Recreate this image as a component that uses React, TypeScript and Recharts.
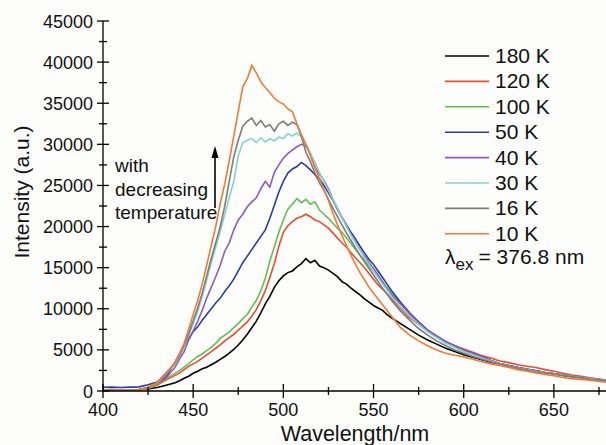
import React from 'react';
import { LineChart, Line, XAxis, YAxis } from 'recharts';

const FONT = '"Liberation Sans", Arial, Helvetica, sans-serif';

const wavelengths = [
  400, 405, 410, 415, 420, 425, 430, 435,
  440, 442.5, 445, 447.5, 450, 452.5, 455, 457.5, 460, 462.5, 465, 467.5, 470, 472.5, 475, 477.5,
  480, 482.5, 485, 487.5, 490, 492.5, 495, 497.5, 500, 502.5, 505, 507.5, 510, 512.5, 515, 517.5,
  520, 522.5, 525, 527.5, 530, 532.5, 535, 537.5, 540, 542.5, 545, 547.5, 550, 552.5, 555, 557.5, 560,
  565, 570, 575, 580, 585, 590, 595, 600, 605, 610, 615, 620, 625, 630, 635, 640, 645, 650, 655, 660,
  665, 670, 675, 680,
];

const k180 = [
  150, 170, 140, 160, 180, 250, 420, 700,
  1000, 1250, 1550, 1800, 2150, 2400, 2700, 2900, 3200, 3500, 3850, 4200, 4600, 5050, 5600, 6200,
  6900, 7700, 8500, 9500, 10600, 11500, 12600, 13400, 14000, 14400, 14600, 15100, 15500, 16100, 15600, 15900,
  15200, 15000, 14700, 14300, 13900, 13300, 13000, 12500, 12100, 11700, 11200, 10800, 10400, 10100, 9800, 9300, 8900,
  8200, 7500, 6800, 6200, 5700, 5200, 4800, 4400, 4100, 3800, 3500, 3300, 3050, 2850, 2650, 2450, 2250, 2100, 1900, 1750,
  1650, 1500, 1350, 1250,
];

const k120 = [
  100, 120, 90, 110, 130, 300, 700, 1350,
  1900, 2200, 2600, 3000, 3300, 3600, 4000, 4400, 4800, 5200, 5600, 6100, 6500, 6900, 7400, 7900,
  8400, 9100, 9900, 11000, 12200, 13800, 15500, 17600, 19300, 20100, 20600, 21000, 21200, 21500, 21200, 20800,
  20600, 20200, 19800, 19200, 18600, 18000, 17500, 16800, 16200, 15600, 15000, 14300, 13600, 12900, 12400, 11800, 11200,
  10000, 8900, 8100, 7300, 6600, 6000, 5500, 5100, 4700, 4300, 4000, 3650, 3450, 3200, 3000, 2850, 2600, 2400, 2150, 1950,
  1800, 1600, 1450, 1300,
];

const k100 = [
  120, 100, 130, 110, 150, 330, 800, 1500,
  2150, 2500, 2900, 3300, 3800, 4200, 4500, 4900, 5300, 5800, 6400, 6800, 7200, 7700, 8200, 8800,
  9300, 10200, 11000, 12200, 13700, 15800, 17500, 19300, 20800, 22100, 22700, 23400, 22900, 23300, 22700, 23000,
  22000, 21500, 21000, 20400, 19800, 19300, 18600, 17900, 17200, 16500, 15900, 15200, 14600, 13900, 13200, 12600, 11900,
  10600, 9400, 8300, 7400, 6600, 6000, 5400, 4900, 4500, 4100, 3700, 3350, 3100, 2850, 2650, 2450, 2250, 2100, 1950, 1800,
  1650, 1500, 1380, 1280,
];

const k50 = [
  450, 480, 430, 470, 500, 750, 1100, 1700,
  3500, 4500, 5500, 6400, 7200, 7800, 8600, 9300, 10000, 10700, 11300, 12100, 12800, 13600, 14600, 15600,
  16400, 17200, 18000, 18800, 19600, 21000, 22600, 24200, 25500, 26500, 27000, 27300, 27800, 27400, 26900, 26300,
  25800, 25000, 24100, 23200, 22100, 21100, 20200, 19300, 18500, 17600, 16800, 16000, 15400, 14600, 13800, 13000, 12200,
  10800, 9500, 8400, 7400, 6700, 6000, 5500, 5000, 4600, 4200, 3700, 3350, 3100, 2850, 2650, 2450, 2250, 2100, 1950, 1800,
  1650, 1500, 1380, 1280,
];

const k40 = [
  150, 130, 160, 140, 170, 450, 900, 1600,
  2900, 3900, 4800, 6200, 7300, 8500, 9800, 11300, 12600, 13900, 15300, 17000, 18000, 19600, 20800, 21500,
  22400, 23000, 23500, 24600, 25500, 24800, 26600, 27500, 28300, 28900, 29300, 29700, 30000, 29800, 28900, 27200,
  26400, 25600, 24600, 23300, 22200, 21100, 20100, 19000, 18100, 17200, 16400, 15600, 14900, 14100, 13300, 12400, 11700,
  10600, 9400, 8300, 7400, 6700, 6000, 5500, 5000, 4600, 4200, 3700, 3350, 3100, 2850, 2650, 2450, 2250, 2100, 1950, 1800,
  1650, 1500, 1380, 1280,
];

const k30 = [
  120, 100, 140, 110, 150, 420, 1000, 2100,
  3300, 4300, 5400, 6800, 8200, 9700, 11500, 13500, 15600, 17500, 19400, 21500, 23500, 25500, 28600, 30200,
  30500, 30700, 30200, 30800, 30300, 30700, 30400, 30900, 30700, 31300, 31000, 31400, 30900, 30000, 28900, 27800,
  26600, 25500, 24400, 23300, 22200, 21100, 20000, 19000, 18000, 17100, 16200, 15400, 14600, 13800, 13000, 12300, 11500,
  10200, 9100, 8100, 7200, 6500, 5800, 5300, 4800, 4400, 4000, 3650, 3300, 3050, 2800, 2600, 2400, 2250, 2100, 1950, 1800,
  1650, 1500, 1380, 1250,
];

const k16 = [
  100, 90, 120, 100, 140, 430, 1050, 2200,
  3400, 4400, 5600, 7000, 8500, 10100, 11900, 14000, 16100, 18000, 20000, 22500, 25500, 28500, 30500, 32200,
  32800, 33200, 32300, 32900, 32100, 32400, 31600, 32500, 32800, 32300, 32700, 32400, 31000, 29000, 27900, 26500,
  25300, 24400, 23300, 22200, 21200, 20200, 19200, 18300, 17400, 16500, 15700, 14900, 14100, 13300, 12500, 11800, 11000,
  9700, 8600, 7600, 6800, 6100, 5500, 5000, 4600, 4200, 3850, 3550, 3250, 3000, 2750, 2550, 2350, 2200, 2050, 1900, 1750,
  1600, 1450, 1350, 1200,
];

const k10 = [
  80, 60, 90, 70, 100, 400, 1000, 2000,
  3500, 4600, 5800, 7500, 9300, 11000, 13000, 15300, 17700, 20000, 22800, 25200, 28000, 31000, 34000, 37000,
  38000, 39600, 38700, 37600, 36900, 36300, 35600, 35200, 34900, 34300, 34000, 32500, 31200, 30000, 28600, 27200,
  25800, 24500, 23200, 21600, 20200, 18900, 17700, 16500, 15400, 14400, 13500, 12600, 11900, 11200, 10500, 9800, 9100,
  7700, 6800, 6100, 5500, 5000, 4600, 4350, 4150, 3850, 3550, 3300, 3100, 2850, 2600, 2400, 2200, 2000, 1850, 1650, 1500,
  1400, 1300, 1150, 1050,
];

const seriesKeys = ['k180', 'k120', 'k100', 'k50', 'k40', 'k30', 'k16', 'k10'];
const seriesNames = ['180 K', '120 K', '100 K', '50 K', '40 K', '30 K', '16 K', '10 K'];
const seriesColors = ['#000000', '#ee4a2c', '#5cc24f', '#2b3c9c', '#8a5cc2', '#84d3cd', '#7d7d7d', '#f47a30'];
const seriesValues = [k180, k120, k100, k50, k40, k30, k16, k10];

const xTicks = [400, 425, 450, 475, 500, 525, 550, 575, 600, 625, 650, 675];
const xLabels = [400, 450, 500, 550, 600, 650];
const yTicks = [0, 2500, 5000, 7500, 10000, 12500, 15000, 17500, 20000, 22500, 25000, 27500, 30000, 32500, 35000, 37500, 40000, 42500, 45000];
const yLabels = [0, 5000, 10000, 15000, 20000, 25000, 30000, 35000, 40000, 45000];

const xTitle = 'Wavelength/nm';
const yTitle = 'Intensity (a.u.)';
const noteLines = ['with', 'decreasing', 'temperature'];
const excitation = '= 376.8 nm';

const data = wavelengths.map((w, i) => {
  const row: Record<string, number> = { w };
  seriesKeys.forEach((k, j) => {
    row[k] = seriesValues[j][i];
  });
  return row;
});

const AX = '#000';

const XTickBottom = (props: any) => {
  const { x, y, payload } = props;
  const major = xLabels.includes(payload.value);
  const len = major ? 7 : 4;
  return (
    <g>
      <line x1={x} x2={x} y1={y - len} y2={y + len} stroke={AX} strokeWidth={1.3} />
      {major && (
        <text x={x} y={y + 25} textAnchor="middle" fontSize={18} fontFamily={FONT} fill="#111">
          {payload.value}
        </text>
      )}
    </g>
  );
};

const XTickTop = (props: any) => {
  const { x, y, payload } = props;
  const major = xLabels.includes(payload.value);
  const len = major ? 7 : 4;
  return <line x1={x} x2={x} y1={y - len} y2={y + len} stroke={AX} strokeWidth={1.3} />;
};

const YTickLeft = (props: any) => {
  const { x, y, payload } = props;
  const major = yLabels.includes(payload.value);
  const len = major ? 6 : 4;
  return (
    <g>
      <line x1={x - len} x2={x + len} y1={y} y2={y} stroke={AX} strokeWidth={1.3} />
      {major && (
        <text x={x - 10} y={y + 6.5} textAnchor="end" fontSize={18} fontFamily={FONT} fill="#111">
          {payload.value}
        </text>
      )}
    </g>
  );
};

const YTickRight = (props: any) => {
  const { x, y, payload } = props;
  const major = yLabels.includes(payload.value);
  const len = major ? 7 : 4;
  return <line x1={x - len} x2={x + len} y1={y} y2={y} stroke={AX} strokeWidth={1.3} />;
};

export default function App() {
  const legendTop = 56;
  const legendStep = 25.4;
  return (
    <div style={{ position: 'relative', width: 606, height: 445, background: '#fdfdfb', overflow: 'hidden' }}>
      <style>{'body{margin:0;}'}</style>
      <LineChart
        width={606}
        height={445}
        data={data}
        margin={{ top: 21, right: -2, bottom: 0, left: 0 }}
      >
        <XAxis
          dataKey="w"
          type="number"
          domain={[400, 680]}
          ticks={xTicks}
          interval={0}
          height={54}
          tickSize={0}
          tickMargin={0}
          tick={<XTickBottom />}
          axisLine={{ stroke: AX, strokeWidth: 1.3 }}
          allowDataOverflow
        />
        <XAxis
          xAxisId="top"
          orientation="top"
          type="number"
          domain={[400, 680]}
          ticks={xTicks}
          interval={0}
          height={0}
          tickSize={0}
          tickMargin={0}
          tick={<XTickTop />}
          axisLine={{ stroke: AX, strokeWidth: 1.3 }}
          allowDataOverflow
        />
        <YAxis
          type="number"
          domain={[0, 45000]}
          ticks={yTicks}
          interval={0}
          width={103}
          tickSize={0}
          tickMargin={0}
          tick={<YTickLeft />}
          axisLine={{ stroke: AX, strokeWidth: 1.3 }}
          allowDataOverflow
        />
        <YAxis
          yAxisId="right"
          orientation="right"
          type="number"
          domain={[0, 45000]}
          ticks={yTicks}
          interval={0}
          width={0}
          tickSize={0}
          tickMargin={0}
          tick={<YTickRight />}
          axisLine={{ stroke: AX, strokeWidth: 1.3 }}
          allowDataOverflow
        />
        {seriesKeys.map((k, i) => (
          <Line
            key={k}
            dataKey={k}
            type="linear"
            stroke={seriesColors[i]}
            strokeWidth={1.6}
            dot={false}
            activeDot={false}
            isAnimationActive={false}
          />
        ))}
      </LineChart>
      <svg
        width={606}
        height={445}
        style={{ position: 'absolute', left: 0, top: 0, pointerEvents: 'none' }}
        fontFamily={FONT}
      >
        <text transform="translate(28.5,192) rotate(-90)" textAnchor="middle" fontSize={21} fill="#111">
          {yTitle}
        </text>
        <text x={355} y={441} textAnchor="middle" fontSize={21.5} fill="#111">
          {xTitle}
        </text>
        {noteLines.map((t, i) => (
          <text key={t} x={115} y={172 + i * 23.5} fontSize={19} fill="#111">
            {t}
          </text>
        ))}
        <line x1={215} x2={215} y1={208} y2={156} stroke="#000" strokeWidth={1.6} />
        <polygon points="215,146 211.5,158 218.5,158" fill="#000" />
        {seriesNames.map((n, i) => {
          const cy = legendTop + i * legendStep;
          return (
            <g key={n}>
              <line x1={445} x2={489} y1={cy} y2={cy} stroke={seriesColors[i]} strokeWidth={1.6} />
              <text x={495} y={cy + 7} fontSize={21} fill="#111">
                {n}
              </text>
            </g>
          );
        })}
        <text x={445} y={264} fontSize={21} fill="#111">
          <tspan>λ</tspan>
          <tspan fontSize={17} dy={6}>ex</tspan>
          <tspan dy={-6} dx={5}>{excitation}</tspan>
        </text>
      </svg>
    </div>
  );
}
